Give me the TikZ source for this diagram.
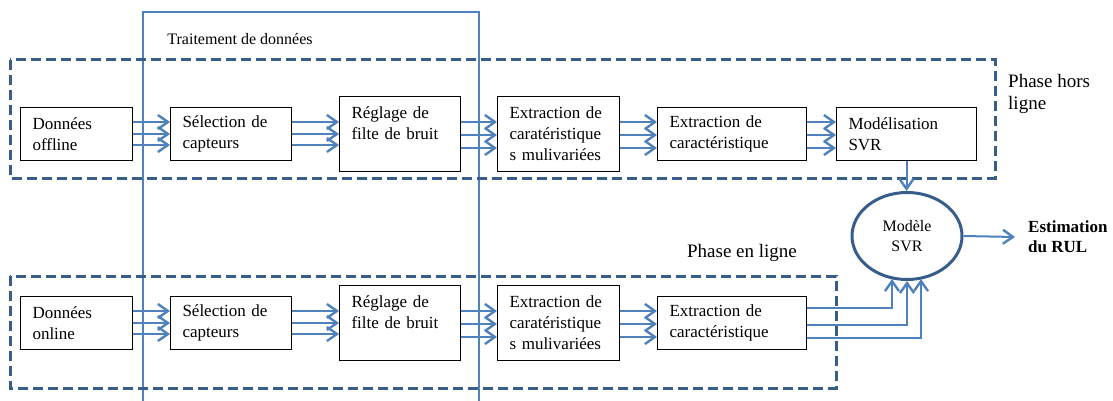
\documentclass[tikz,border=0pt]{standalone}
\usepackage{fontspec}
\setmainfont{Liberation Serif}
\usepackage{tikz}
\usetikzlibrary{arrows.meta,positioning,shapes.geometric}
\definecolor{arrblue}{RGB}{79,129,189}
\definecolor{phaseblue}{RGB}{56,93,138}

\begin{document}
\begin{tikzpicture}[
  x=1pt, y=1pt,
  font=\fontsize{17}{21}\selectfont,
  box/.style={draw, line width=1pt, align=left, inner xsep=12pt, minimum height=53pt},
  tallbox/.style={box, minimum height=75pt},
  arr/.style={arrblue, line width=2pt, -{Straight Barb[length=10pt 0 0,width=14pt 0 0,line width=2.4pt]}},
  phase/.style={draw=phaseblue, line width=3pt, dash pattern=on 10pt off 5pt},
  frame/.style={draw=arrblue, line width=1.2pt}
]
\useasboundingbox (0,0) rectangle (1113,-401);

% bloc traitement
\draw[frame] (143,-420) |- (479,-12) -- (479,-420);
\node[font=\fontsize{16}{20}\selectfont] (trait) at (240,-39) {Traitement de données};

% phase hors ligne
\node[box, text width=88pt] (donoff) at (76.5,-134) {Données\\offline};
\node[box, right=37pt of donoff, text width=97pt] (seloff) {Sélection de\\capteurs};
\node[tallbox, right=47pt of seloff, text width=97pt] (regoff) {Réglage de\\filte de bruit\\\mbox{}};
\node[tallbox, right=36pt of regoff, text width=98pt] (extmoff) {Extraction de\\caratéristique\\s mulivariées};
\node[box, right=37pt of extmoff, text width=125pt] (extcoff) {Extraction de\\caractéristique};
\node[box, right=29pt of extcoff, text width=116pt] (modsvr) {Modélisation\\SVR};
\draw[phase] (10,-60) rectangle (995,-178);
\node[font=\fontsize{19}{22}\selectfont, anchor=west, align=left, inner sep=0pt] (hors) at (1008,-94) {Phase hors\\ligne};

% phase en ligne
\node[box, below=135pt of donoff, text width=88pt] (donon) {Données\\online};
\node[box, right=37pt of donon, text width=97pt] (selon) {Sélection de\\capteurs};
\node[tallbox, right=47pt of selon, text width=97pt] (regon) {Réglage de\\filte de bruit\\\mbox{}};
\node[tallbox, right=36pt of regon, text width=98pt] (extmon) {Extraction de\\caratéristique\\s mulivariées};
\node[box, right=37pt of extmon, text width=125pt] (extcon) {Extraction de\\caractéristique};
\draw[phase] (10,-276) rectangle (836,-388);
\node[font=\fontsize{19}{22}\selectfont] (enligne) at (742,-253) {Phase en ligne};

% modele
\node[ellipse, draw=phaseblue, line width=3pt, minimum width=110pt, minimum height=87pt,
      align=center, font=\fontsize{16}{20}\selectfont] (svr) at (907,-236) {Modèle\\SVR};
\node[font=\fontsize{17}{20}\selectfont\bfseries, anchor=west, align=left,
      inner xsep=13pt, inner ysep=0pt] (rul) at (1015,-237) {Estimation\\du RUL};

% fleches
\foreach \a/\b in {donoff/seloff, seloff/regoff, donon/selon, selon/regon}
  \foreach \dy in {12,0,-11}
    \draw[arr] ([yshift=\dy]\a.east) -- ([yshift=\dy]\b.west);
\foreach \a/\b in {regoff/extmoff, extmoff/extcoff, extcoff/modsvr, regon/extmon, extmon/extcon}
  \foreach \dy in {12,-1,-14}
    \draw[arr] ([yshift=\dy]\a.east) -- ([yshift=\dy]\b.west);
\draw[arr] (modsvr.south) -- (modsvr.south |- svr.north);
\draw[arr] (svr.east) -- (rul.west);
\draw[arr] ([yshift=15]extcon.east) -| ([xshift=-15,yshift=2]svr.south);
\draw[arr] ([yshift=-2]extcon.east) -| (svr.south);
\draw[arr] ([yshift=-15]extcon.east) -| ([xshift=14,yshift=2]svr.south);
\end{tikzpicture}
\end{document}
